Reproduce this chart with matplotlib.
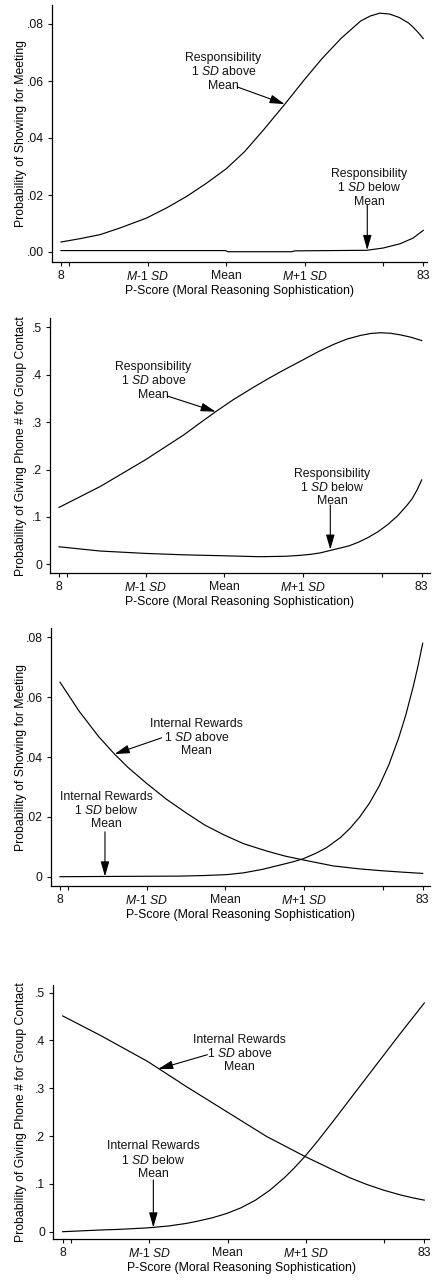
import matplotlib
matplotlib.use('Agg')
import matplotlib.pyplot as plt

plt.rcParams['font.family'] = ['Liberation Sans', 'DejaVu Sans']
plt.rcParams['mathtext.fontset'] = 'custom'
plt.rcParams['mathtext.rm'] = 'Liberation Sans'
plt.rcParams['mathtext.it'] = 'Liberation Sans:italic'
plt.rcParams['font.size'] = 8.8
plt.rcParams['text.color'] = '#111111'

# P-score axis: mean and SD used for the tick marks
p_mean, p_sd = 42.2, 16.25
x_ticks = [8, p_mean - 2 * p_sd, p_mean - p_sd, p_mean, p_mean + p_sd, p_mean + 2 * p_sd, 83]
x_ticklabels = ['8', '', '$M$-1 $SD$', 'Mean', '$M$+1 $SD$', '', '83']
x_label = 'P-Score (Moral Reasoning Sophistication)'

ylab_meeting = 'Probability of Showing for Meeting'
ylab_phone = 'Probability of Giving Phone # for Group Contact'

# panel 1: responsibility, showing for meeting
p1_x_above = [8, 12, 16.1, 20, 25.7, 30, 34, 38, 42.2, 46, 50, 54.4, 58.3, 62, 66, 70, 72, 74,
              76, 78, 80, 81, 82, 83]
p1_y_above = [0.0035, 0.0047, 0.0061, 0.0083, 0.0119, 0.0156, 0.0195, 0.0240, 0.0292, 0.0352,
              0.0430, 0.0520, 0.0603, 0.0678, 0.0750, 0.0810, 0.0828, 0.0838, 0.0835, 0.0823,
              0.0803, 0.0787, 0.0769, 0.0749]
p1_x_below = [8, 42.0, 42.6, 55.8, 56.4, 71.3, 74.7, 78.2, 80.9, 83]
p1_y_below = [0.0005, 0.0005, 0.0001, 0.0001, 0.0004, 0.0006, 0.0014, 0.0029, 0.0049, 0.0076]

# panel 2: responsibility, giving phone number
p2_x_above = [8, 16.5, 25.8, 33.8, 37, 40.4, 44, 48.3, 51.5, 54.5, 58.4, 61.5, 64.8, 67.5, 70.4,
              72.5, 74.5, 76.5, 78.6, 80.8, 83]
p2_y_above = [0.120, 0.164, 0.220, 0.273, 0.297, 0.322, 0.347, 0.374, 0.393, 0.410, 0.431, 0.448,
              0.464, 0.475, 0.483, 0.487, 0.4885, 0.4875, 0.484, 0.479, 0.472]
p2_x_below = [8, 16.5, 25.8, 33.8, 42.0, 49.6, 55, 58, 60, 62, 64, 66, 68, 70, 72, 74, 76, 78,
              80, 81, 82, 83]
p2_y_below = [0.037, 0.028, 0.023, 0.020, 0.018, 0.016, 0.017, 0.019, 0.021, 0.024, 0.029, 0.034,
              0.039, 0.047, 0.057, 0.069, 0.084, 0.102, 0.125, 0.138, 0.156, 0.178]

# panel 3: internal rewards, showing for meeting
p3_x_above = [8, 12, 16, 19.2, 22, 25.9, 30, 34.2, 38, 42, 46, 50.7, 54.5, 58.3, 64.5, 70, 74.5,
              79, 83]
p3_y_above = [0.065, 0.0552, 0.0468, 0.0411, 0.0366, 0.0312, 0.0259, 0.0212, 0.0172, 0.0139,
              0.0110, 0.0086, 0.0069, 0.0056, 0.0036, 0.0026, 0.0020, 0.0015, 0.0011]
p3_x_below = [8, 20, 32.8, 38, 42.5, 46, 50, 53.5, 56, 58.3, 61, 63.1, 66, 68, 70, 72, 74, 76,
              78, 79.5, 81, 82, 83]
p3_y_below = [0.0, 0.0001, 0.0002, 0.0004, 0.0007, 0.0013, 0.0025, 0.0039, 0.0049, 0.0060,
              0.0079, 0.0097, 0.0131, 0.0162, 0.0200, 0.0246, 0.0303, 0.0374, 0.0462, 0.0540,
              0.0633, 0.0702, 0.0780]

# panel 4: internal rewards, giving phone number
p4_x_above = [8, 15.7, 25.6, 33.7, 42.0, 50.3, 58.3, 64.1, 67.5, 71.0, 74.5, 78.0, 80.5, 83]
p4_y_above = [0.451, 0.411, 0.356, 0.303, 0.251, 0.199, 0.157, 0.129, 0.113, 0.099, 0.087,
              0.077, 0.071, 0.066]
p4_x_below = [8, 15.7, 20, 25.6, 30, 33.7, 36, 39, 42, 45, 48, 51, 54, 56, 58.3, 61, 64.1, 71,
              78, 83]
p4_y_below = [0.0, 0.0035, 0.005, 0.008, 0.012, 0.0174, 0.022, 0.029, 0.038, 0.050, 0.066, 0.087,
              0.113, 0.133, 0.158, 0.191, 0.231, 0.322, 0.414, 0.478]

resp_above = 'Responsibility\n1 $SD$ above\nMean'
resp_below = 'Responsibility\n1 $SD$ below\nMean'
rew_above = 'Internal Rewards\n1 $SD$ above\nMean'
rew_below = 'Internal Rewards\n1 $SD$ below\nMean'

W, H = 435, 1282
fig = plt.figure(figsize=(W / 100, H / 100), dpi=100)


def make_axes(box, px8, px83, yvals, pys):
    # box = left, right, top, bottom in pixels; px8/px83 = pixel of P-score 8 and 83
    left, right, top, bottom = box
    ux = (px83 - px8) / 75.0
    uy = (pys[0] - pys[1]) / (yvals[1] - yvals[0])
    ax = fig.add_axes([left / W, 1 - bottom / H, (right - left) / W, (bottom - top) / H])
    ax.set_xlim(8 - (px8 - left) / ux, 83 + (right - px83) / ux)
    ax.set_ylim(yvals[0] - (bottom - pys[0]) / uy, yvals[1] + (pys[1] - top) / uy)
    for s in ['top', 'right']:
        ax.spines[s].set_visible(False)
    for s in ['left', 'bottom']:
        ax.spines[s].set_linewidth(0.9)
    ax.tick_params(direction='out', length=3.2, width=0.8, pad=2.5, colors='#111111')
    ax.set_xticks(x_ticks)
    ax.set_xticklabels(x_ticklabels)
    ax.set_xlabel(x_label)
    ax.xaxis.set_label_coords(0.5, -23.0 / (bottom - top))
    ax.yaxis.set_label_coords((27.5 - left) / (right - left), 0.5)
    return ax


def label(ax, text, xy_text, tail, head):
    ax.text(xy_text[0], xy_text[1], text, ha='center', va='center', linespacing=1.12)
    ax.annotate('', xy=head, xytext=tail,
                arrowprops=dict(arrowstyle='-|>,head_length=9,head_width=2.6', mutation_scale=1,
                                lw=0.8, color='black', shrinkA=0, shrinkB=0))


line_kw = dict(color='black', lw=0.85)

# panel 1
ax1 = make_axes((52, 426.7, 5, 262), 61, 423.3, (0, 0.08), (252, 24))
ax1.plot(p1_x_above, p1_y_above, **line_kw)
ax1.plot(p1_x_below, p1_y_below, **line_kw)
ax1.set_yticks([0, 0.02, 0.04, 0.06, 0.08])
ax1.set_yticklabels(['.00', '.02', '.04', '.06', '.08'])
ax1.set_ylabel(ylab_meeting)
label(ax1, resp_above, (41.6, 0.0632), (44.5, 0.0579), (54.3, 0.0519))
label(ax1, resp_below, (71.8, 0.0225), (71.4, 0.0165), (71.4, 0.0007))

# panel 2
ax2 = make_axes((50, 430, 318.3, 573), 59, 421.7, (0, 0.5), (564.3, 327.3))
ax2.plot(p2_x_above, p2_y_above, **line_kw)
ax2.plot(p2_x_below, p2_y_below, **line_kw)
ax2.set_yticks([0, 0.1, 0.2, 0.3, 0.4, 0.5])
ax2.set_yticklabels(['0', '.1', '.2', '.3', '.4', '.5'])
ax2.set_ylabel(ylab_phone)
label(ax2, resp_above, (27.5, 0.387), (30.4, 0.355), (40.4, 0.322))
label(ax2, resp_below, (64.5, 0.162), (64.1, 0.125), (64.1, 0.031))

# panel 3
ax3 = make_axes((50.7, 430, 628.3, 885.7), 60, 422.7, (0, 0.08), (876.7, 637.3))
ax3.plot(p3_x_above, p3_y_above, **line_kw)
ax3.plot(p3_x_below, p3_y_below, **line_kw)
ax3.set_yticks([0, 0.02, 0.04, 0.06, 0.08])
ax3.set_yticklabels(['0', '.02', '.04', '.06', '.08'])
ax3.set_ylabel(ylab_meeting)
label(ax3, rew_above, (36.3, 0.0464), (29.0, 0.0464), (19.3, 0.0410))
label(ax3, rew_below, (17.5, 0.0221), (17.3, 0.0150), (17.3, 0.0001))

# panel 4
ax4 = make_axes((53.3, 429, 985, 1239), 62.7, 424.3, (0, 0.5), (1231.7, 992.5))
ax4.plot(p4_x_above, p4_y_above, **line_kw)
ax4.plot(p4_x_below, p4_y_below, **line_kw)
ax4.set_yticks([0, 0.1, 0.2, 0.3, 0.4, 0.5])
ax4.set_yticklabels(['0', '.1', '.2', '.3', '.4', '.5'])
ax4.set_ylabel(ylab_phone)
label(ax4, rew_above, (44.7, 0.372), (38.0, 0.370), (27.8, 0.340))
label(ax4, rew_below, (26.9, 0.150), (26.8, 0.108), (26.8, 0.009))

fig.savefig('out.png', dpi=100)
